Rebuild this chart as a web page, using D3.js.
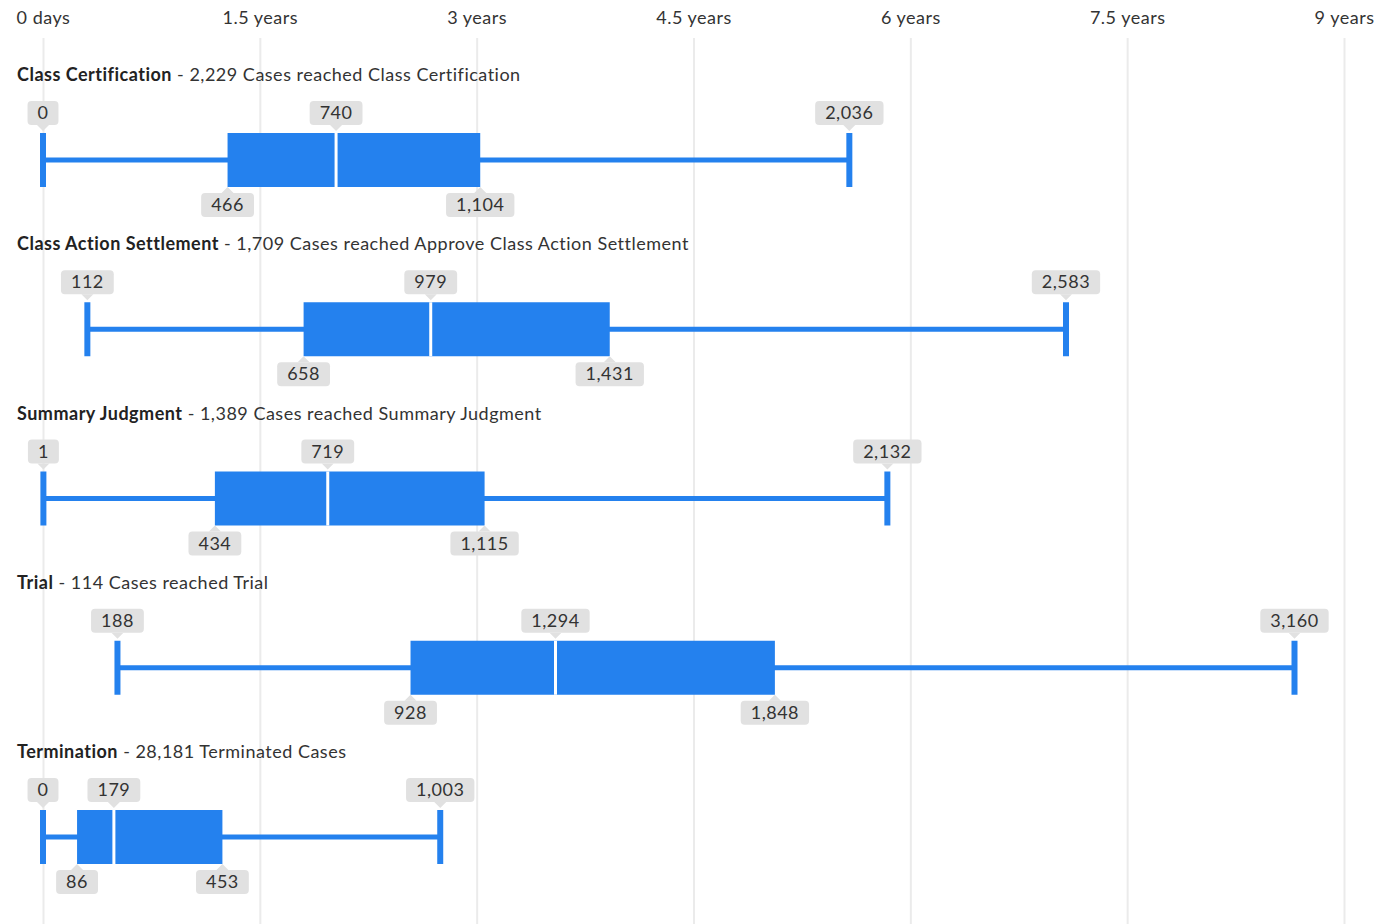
<!DOCTYPE html>
<html>
<head>
<meta charset="utf-8">
<script src="https://cdn.jsdelivr.net/npm/d3@7"></script>
<style>
  body { margin: 0; background: #fff; }
  text { font-family: Lato, "Open Sans", sans-serif; letter-spacing: 0.5px; }
</style>
</head>
<body>
<div id="container"></div>
<script>
const width = 1379;
const height = 924;

const boxColor = "#2481ee";
const gridColor = "#ebebeb";
const labelBg = "#e1e1e1";

// data (days)
const stages = ["Class Certification", "Class Action Settlement", "Summary Judgment", "Trial", "Termination"];
const subtitles = [
  "2,229 Cases reached Class Certification",
  "1,709 Cases reached Approve Class Action Settlement",
  "1,389 Cases reached Summary Judgment",
  "114 Cases reached Trial",
  "28,181 Terminated Cases",
];
const minValues = [0, 112, 1, 188, 0];
const q1Values = [466, 658, 434, 928, 86];
const medianValues = [740, 979, 719, 1294, 179];
const q3Values = [1104, 1431, 1115, 1848, 453];
const maxValues = [2036, 2583, 2132, 3160, 1003];

const tickValues = [0, 547.5, 1095, 1642.5, 2190, 2737.5, 3285];
const tickLabels = ["0 days", "1.5 years", "3 years", "4.5 years", "6 years", "7.5 years", "9 years"];

const rows = stages.map((s, i) => ({
  name: s,
  subtitle: subtitles[i],
  min: minValues[i],
  q1: q1Values[i],
  median: medianValues[i],
  q3: q3Values[i],
  max: maxValues[i],
}));

const xScale = d3.scaleLinear().domain([0, 3285]).range([43, 1344]);
const yScale = d3.scaleBand().domain(stages).range([75, 75 + 169.25 * stages.length]);

const fmt = d3.format(",");
const fontSize = "18px";

const svg = d3
  .select("#container")
  .append("svg")
  .attr("width", width)
  .attr("height", height);

// grid + tick labels
const xAxis = d3
  .axisTop(xScale)
  .tickValues(tickValues)
  .tickSize(-(height - 38))
  .tickPadding(14)
  .tickFormat((d, i) => tickLabels[i]);

const axisG = svg
  .append("g")
  .attr("transform", "translate(0, 38)")
  .call(xAxis);
axisG.select(".domain").remove();
axisG.selectAll(".tick line").attr("stroke", gridColor).attr("stroke-width", 2);
axisG
  .selectAll(".tick text")
  .attr("fill", "#333")
  .style("font-size", fontSize)
  .style("font-family", "Lato, sans-serif");

const boxHeight = 54;

const row = svg
  .selectAll("g.row")
  .data(rows)
  .enter()
  .append("g")
  .attr("class", "row")
  .attr("transform", (d) => `translate(0, ${yScale(d.name)})`);

// titles
const title = row
  .append("text")
  .attr("x", 17)
  .attr("y", 6)
  .attr("fill", "#222")
  .style("font-size", fontSize);
title.append("tspan").style("font-weight", "bold").text((d) => d.name);
title.append("tspan").attr("fill", "#333").text((d) => " - " + d.subtitle);

const boxTop = 58;
const mid = boxTop + boxHeight / 2;

// whisker line
row
  .append("line")
  .attr("x1", (d) => xScale(d.min))
  .attr("x2", (d) => xScale(d.max))
  .attr("y1", mid)
  .attr("y2", mid)
  .attr("stroke", boxColor)
  .attr("stroke-width", 5);

// caps
["min", "max"].forEach((k) => {
  row
    .append("line")
    .attr("x1", (d) => xScale(d[k]))
    .attr("x2", (d) => xScale(d[k]))
    .attr("y1", boxTop)
    .attr("y2", boxTop + boxHeight)
    .attr("stroke", boxColor)
    .attr("stroke-width", 6);
});

// box
row
  .append("rect")
  .attr("x", (d) => xScale(d.q1))
  .attr("y", boxTop)
  .attr("width", (d) => xScale(d.q3) - xScale(d.q1))
  .attr("height", boxHeight)
  .attr("fill", boxColor);

// median
row
  .append("line")
  .attr("x1", (d) => xScale(d.median))
  .attr("x2", (d) => xScale(d.median))
  .attr("y1", boxTop)
  .attr("y2", boxTop + boxHeight)
  .attr("stroke", "#fff")
  .attr("stroke-width", 3);

// value labels
const addLabel = (g, value, above) => {
  const cx = xScale(value);
  const lg = g.append("g");
  const pillH = 24;
  const pillY = above ? boxTop - 32 : boxTop + boxHeight + 6;
  const rect = lg.append("rect").attr("fill", labelBg).attr("rx", 4);
  const tip = above
    ? `M${cx - 6},${pillY + pillH} L${cx},${pillY + pillH + 6} L${cx + 6},${pillY + pillH} Z`
    : `M${cx - 6},${pillY} L${cx},${pillY - 6} L${cx + 6},${pillY} Z`;
  lg.append("path").attr("d", tip).attr("fill", labelBg);
  const txt = lg
    .append("text")
    .attr("x", cx)
    .attr("y", pillY + 18)
    .attr("text-anchor", "middle")
    .attr("fill", "#333")
    .style("font-size", fontSize)
    .text(fmt(value));
  const w = txt.node().getComputedTextLength() + 20;
  rect.attr("x", cx - w / 2).attr("y", pillY).attr("width", w).attr("height", pillH);
};

row.each(function (d) {
  const g = d3.select(this);
  addLabel(g, d.min, true);
  addLabel(g, d.median, true);
  addLabel(g, d.max, true);
  addLabel(g, d.q1, false);
  addLabel(g, d.q3, false);
});
</script>
</body>
</html>
